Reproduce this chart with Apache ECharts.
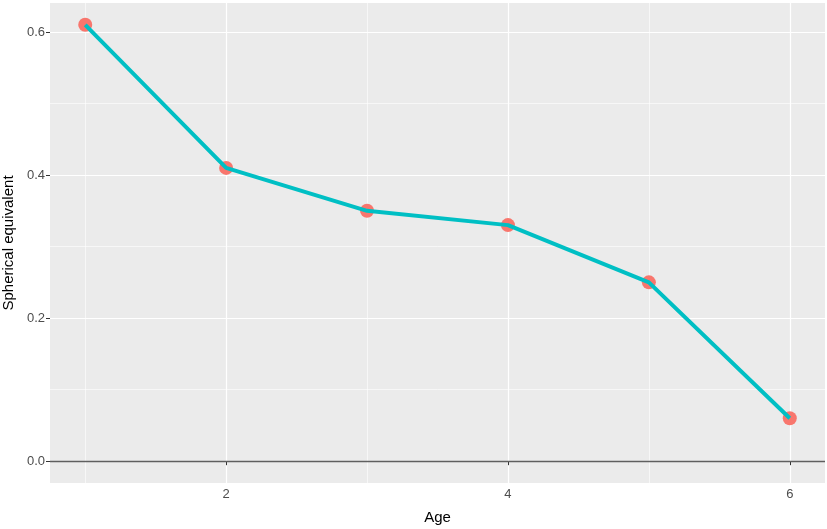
<!DOCTYPE html>
<html>
<head>
<meta charset="utf-8">
<script src="https://cdn.jsdelivr.net/npm/echarts@6/dist/echarts.min.js"></script>
<style>
  html, body { margin: 0; padding: 0; background: #fff; }
  #chart { width: 827px; height: 529px; }
</style>
</head>
<body>
<div id="chart"></div>
<script>
// --- data ---
const ages = [1, 2, 3, 4, 5, 6];
const sphericalEq = [0.61, 0.41, 0.35, 0.33, 0.25, 0.06];
const xMajorTicks = [2, 4, 6];
const xMinorTicks = [1, 3, 5];
const yMajorTicks = [0, 0.2, 0.4, 0.6];
const yMinorTicks = [0.1, 0.3, 0.5];

// ggplot style expansion (5% of range)
const xMin = 0.75, xMax = 6.25;
const yMin = -0.0305, yMax = 0.6405;

const panelBg = '#EBEBEB';
const labelColor = '#4D4D4D';
const fontFam = '"Liberation Sans", Arial, sans-serif';

const chart = echarts.init(document.getElementById('chart'));

function majorAxis(ticks, min, max, name, isY) {
    return {
        type: 'value', min: min, max: max,
        name: name, nameLocation: 'middle',
        nameGap: isY ? 31 : 27,
        nameTextStyle: { color: '#000', fontSize: 15, fontFamily: fontFam },
        axisLine: { show: false },
        axisTick: { show: true, length: 4, customValues: ticks, lineStyle: { color: '#333', width: 1 } },
        axisLabel: { customValues: ticks, color: labelColor, fontSize: 13, fontFamily: fontFam, margin: 5,
            formatter: v => isY ? v.toFixed(1) : String(v) },
        splitLine: { show: true, lineStyle: { color: '#fff', width: 1.2 } }
    };
}
function minorAxis(ticks, min, max) {
    return {
        type: 'value', min: min, max: max,
        axisLine: { show: false },
        axisTick: { show: false, customValues: ticks },
        axisLabel: { show: false, customValues: ticks },
        splitLine: { show: true, lineStyle: { color: '#fff', width: 0.6 } }
    };
}

chart.setOption({
    animation: false,
    backgroundColor: '#fff',
    grid: { left: 50, right: 2, top: 3, bottom: 46, containLabel: false, outerBoundsMode: 'none',
        show: true, backgroundColor: panelBg, borderWidth: 0 },
    xAxis: [majorAxis(xMajorTicks, xMin, xMax, 'Age', false), minorAxis(xMinorTicks, xMin, xMax)],
    yAxis: [majorAxis(yMajorTicks, yMin, yMax, 'Spherical equivalent', true), minorAxis(yMinorTicks, yMin, yMax)],
    series: [
        {
            type: 'scatter', z: 2,
            symbolSize: 14,
            itemStyle: { color: '#F8766D', opacity: 1 },
            data: ages.map((a, i) => [a, sphericalEq[i]]),
            markLine: {
                silent: true, symbol: 'none', label: { show: false },
                lineStyle: { color: '#5f5f5f', width: 1.3, type: 'solid' },
                data: [{ yAxis: 0 }]
            }
        },
        {
            type: 'line', z: 3,
            showSymbol: false,
            lineStyle: { color: '#00BFC4', width: 4 },
            data: ages.map((a, i) => [a, sphericalEq[i]])
        }
    ]
});
</script>
</body>
</html>
